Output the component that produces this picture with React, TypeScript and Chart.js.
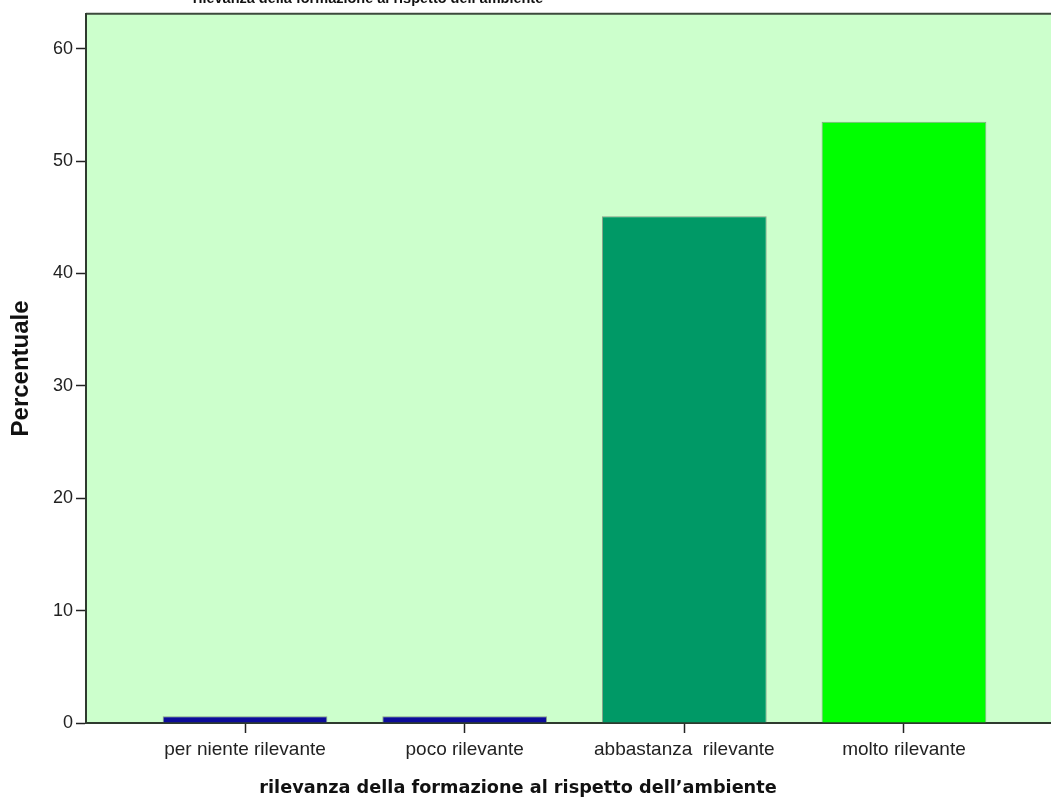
import React, { useEffect, useRef } from 'react';
import { Chart, registerables } from 'chart.js';

Chart.register(...registerables);

const categories = ['per niente rilevante', 'poco rilevante', 'abbastanza  rilevante', 'molto rilevante'];
const percentages = [0.6, 0.6, 45.1, 53.5];
const barColors = ['#0c0c99', '#0c0c99', '#009966', '#00ff00'];
const yTickValues = [0, 10, 20, 30, 40, 50, 60];
const chartTitle = 'rilevanza della formazione al rispetto dell’ambiente';
const xAxisTitle = 'rilevanza della formazione al rispetto dell’ambiente';
const yAxisTitle = 'Percentuale';

const plotBg = {
  id: 'plotBg',
  beforeDraw(chart: any) {
    const { ctx, chartArea } = chart;
    ctx.save();
    ctx.fillStyle = '#ccffcc';
    ctx.fillRect(chartArea.left, chartArea.top, chartArea.right - chartArea.left, chartArea.bottom - chartArea.top);
    ctx.strokeStyle = '#3c4a3c';
    ctx.lineWidth = 2;
    ctx.beginPath();
    ctx.moveTo(chartArea.left, chartArea.top);
    ctx.lineTo(chartArea.right, chartArea.top);
    ctx.stroke();
    ctx.restore();
  },
  afterDraw(chart: any) {
    const { ctx } = chart;
    ctx.save();
    ctx.fillStyle = '#111';
    ctx.textAlign = 'center';
    ctx.textBaseline = 'alphabetic';
    ctx.font = 'bold 14.5px "Liberation Sans"';
    ctx.fillText(chartTitle, 368, 3);
    ctx.font = 'bold 17.7px "DejaVu Sans"';
    ctx.fillText(xAxisTitle, 518, 793);
    ctx.restore();
  },
};

export default function App() {
  const ref = useRef<HTMLCanvasElement | null>(null);
  useEffect(() => {
    if (!ref.current) return;
    const chart = new Chart(ref.current, {
      type: 'bar',
      data: {
        datasets: [
          {
            data: percentages.map((v, i) => ({ x: i, y: v })),
            backgroundColor: barColors,
            borderColor: 'rgba(110,120,110,0.7)',
            borderWidth: 1,
            categoryPercentage: 1,
            barPercentage: 0.75,
          },
        ],
      },
      options: {
        animation: false,
        responsive: false,
        layout: { padding: { top: 13, left: 0, right: 0, bottom: 0 } },
        plugins: { legend: { display: false }, tooltip: { enabled: false }, title: { display: false } },
        scales: {
          x: {
            type: 'linear',
            offset: false,
            min: -0.724,
            max: 3.724,
            afterBuildTicks: (s: any) => {
              s.ticks = categories.map((_, i) => ({ value: i }));
            },
            afterFit: (s: any) => {
              s.height = 78;
            },
            ticks: {
              autoSkip: false,
              maxRotation: 0,
              padding: 5,
              color: '#222',
              font: { family: 'Liberation Sans', size: 19 },
              callback: (v: any) => categories[v] ?? '',
            },
            grid: { offset: false, drawOnChartArea: false, drawTicks: true, tickLength: 10, tickColor: '#222', tickWidth: 1.5 },
            border: { color: '#2e3a2e', width: 2 },
          },
          y: {
            min: 0,
            max: 63.11,
            afterBuildTicks: (s: any) => {
              s.ticks = yTickValues.map((v) => ({ value: v }));
            },
            afterFit: (s: any) => {
              s.width = 86;
            },
            ticks: {
              padding: 3,
              color: '#222',
              font: { family: 'Liberation Sans', size: 18 },
            },
            grid: { drawOnChartArea: false, drawTicks: true, tickLength: 10, tickColor: '#222', tickWidth: 1.5 },
            border: { color: '#2e3a2e', width: 2 },
            title: {
              display: true,
              text: yAxisTitle,
              color: '#111',
              font: { family: 'Liberation Sans', size: 24, weight: 'bold' },
              padding: { top: 7, bottom: 0 },
            },
          },
        },
      },
      plugins: [plotBg],
    });
    return () => chart.destroy();
  }, []);
  return (
    <div style={{ position: 'fixed', left: 0, top: 0, width: 1051, height: 801, overflow: 'hidden', background: '#fff' }}>
      <canvas ref={ref} width={1063} height={801} style={{ display: 'block' }} />
    </div>
  );
}
